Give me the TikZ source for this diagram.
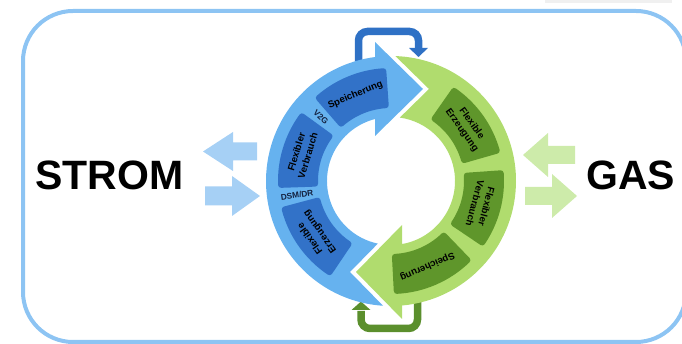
\documentclass[tikz,border=0pt]{standalone}
\usepackage{fontspec}
\setmainfont{Liberation Sans}
\usetikzlibrary{calc}
\definecolor{framec}{HTML}{8DC4F3}
\definecolor{ringblue}{HTML}{66B2EF}
\definecolor{boxblue}{HTML}{3272C8}
\definecolor{ringgreen}{HTML}{B0DC6E}
\definecolor{boxgreen}{HTML}{5F962B}
\definecolor{loopblue}{HTML}{2F71C5}
\definecolor{loopgreen}{HTML}{5B8F2D}
\definecolor{stromarrow}{HTML}{A6D0F5}
\definecolor{gasarrow}{HTML}{CDEBAA}
\definecolor{labelc}{HTML}{14213F}
\newcommand\ringbox[3]{%
  \filldraw[#1, line width=6pt, line join=round]
    ($(C)+(#2:76)$) arc[start angle=#2, end angle=#3, radius=76]
    -- ($(C)+(#3:110)$) arc[start angle=#3, end angle=#2, radius=110] -- cycle;}
\begin{document}
\begin{tikzpicture}[x=1pt,y=1pt,
  boxtext/.style={font=\bfseries\fontsize{9.6}{12}\selectfont, align=center, text=black, inner sep=0pt},
  ringlabel/.style={font=\bfseries\fontsize{8.3}{9}\selectfont, text=labelc, inner sep=0pt},
  bigtext/.style={font=\bfseries\fontsize{41}{41}\selectfont, text=black, inner sep=0pt, anchor=base west},
  loopline/.style={line width=7.5pt, rounded corners=9pt}]
\useasboundingbox (0,0) rectangle (682,344);
% faint line at top right
\fill[gray!12] (545,341) rectangle (672,344);
% frame
\draw[framec, line width=4pt, rounded corners=50pt] (23,2) rectangle (686,333);
\coordinate (C) at (391,163);
% loop arrows
\coordinate (tl) at (358.5,278);
\coordinate (tr) at (418.5,295);
\draw[loopblue, loopline] (tl) -- (358.5,312.5) -- (418.5,312.5) -- (tr);
\fill[loopblue] (409,296) -- (428,296) -- (418.5,287) -- cycle;
\coordinate (bl) at (361,33);
\coordinate (br) at (417.5,47);
\draw[loopgreen, loopline] (br) -- (417.5,15.5) -- (361,15.5) -- (bl);
\fill[loopgreen] (351.5,34) -- (370.5,34) -- (361,42.5) -- cycle;
% blue ring arrow
\fill[ringblue] ($(C)+(266.33:125)$) arc[start angle=266.33, end angle=97.35, radius=125]
  -- ($(C)+(-16,139)$) -- ($(C)+(32,92)$) -- ($(C)+(-16,45)$)
  -- ($(C)+(104.48:64)$) arc[start angle=104.48, end angle=258.1, radius=64]
  -- ($(C)+(-41,-91)$) -- cycle;
% green ring arrow
\fill[ringgreen] ($(C)+(87.98:125)$) arc[start angle=87.98, end angle=-84.95, radius=125]
  -- ($(C)+(11,-138)$) -- ($(C)+(-35,-91)$) -- ($(C)+(11,-44)$)
  -- ($(C)+(-80.1:64)$) arc[start angle=-80.1, end angle=82.1, radius=64]
  -- ($(C)+(38,92)$) -- cycle;
% boxes
\ringbox{boxblue}{94}{131}
\ringbox{boxblue}{144}{182}
\ringbox{boxblue}{195}{236}
\ringbox{boxgreen}{16}{55}
\ringbox{boxgreen}{-34}{4}
\ringbox{boxgreen}{-87}{-46}
% box texts
\node[boxtext, rotate=22.5] (bsp) at ($(C)+(112.5:93)$) {Speicherung};
\node[boxtext, rotate=73] (bfv) at ($(C)+(163:93)$) {Flexibler\\Verbrauch};
\node[boxtext, rotate=125.5] (bfe) at ($(C)+(215.5:93)$) {Flexible\\Erzeugung};
\node[boxtext, rotate=-54.5] (gfe) at ($(C)+(35.5:93)$) {Flexible\\Erzeugung};
\node[boxtext, rotate=-105] (gfv) at ($(C)+(-15:93)$) {Flexibler\\Verbrauch};
\node[boxtext, rotate=-157] (gsp) at ($(C)+(-67:93)$) {Speicherung};
\node[ringlabel, rotate=-42.5] (v2g) at ($(C)+(137.5:95)$) {V2G};
\node[ringlabel, rotate=8.5] (dsm) at ($(C)+(188.5:95)$) {DSM/DR};
% side arrows
\fill[stromarrow] (203,192.5) -- (233,212) -- (233,201.5) -- (257,201.5) -- (257,183.5) -- (233,183.5) -- (233,173) -- cycle;
\fill[stromarrow] (205,157.5) -- (232,157.5) -- (232,168) -- (260,148) -- (232,128) -- (232,138.5) -- (205,138.5) -- cycle;
\fill[gasarrow] (523,189) -- (548,211) -- (548,198) -- (575,198) -- (575,180) -- (548,180) -- (548,167) -- cycle;
\fill[gasarrow] (525,157) -- (552,157) -- (552,170) -- (577,148) -- (552,126) -- (552,139) -- (525,139) -- cycle;
% big labels
\node[bigtext] (strom) at (35,154) {STROM};
\node[bigtext] (gas) at (586,154) {GAS};
\end{tikzpicture}
\end{document}
